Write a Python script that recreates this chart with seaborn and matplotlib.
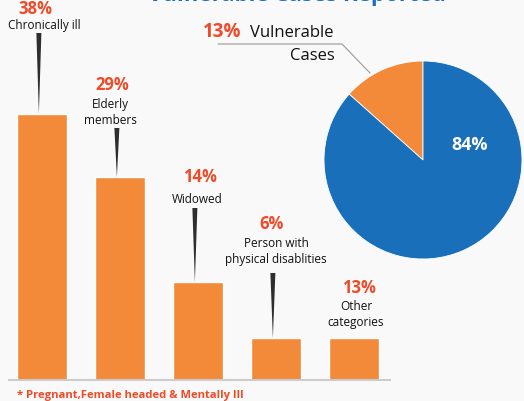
import matplotlib
matplotlib.use("Agg")
import matplotlib.pyplot as plt
import seaborn as sns

# data
categories = ["Chronically ill", "Elderly\nmembers", "Widowed",
              "Person with\nphysical disablities", "Other\ncategories"]
bar_heights = [38, 29, 14, 6, 6]          # drawn bar heights
bar_labels = ["38%", "29%", "14%", "6%", "13%"]
pie_values = [13, 84]
pie_names = ["Vulnerable\nCases", "Other"]
pie_labels = ["13%", "84%"]
title = "Vulnerable Cases Reported"
footnote = "* Pregnant,Female headed & Mentally Ill"

ORANGE = "#f28a3a"
BLUE = "#1a6fba"
RED = "#f04a28"
BG = "#f9f9f9"

sns.set_theme(style="white")
plt.rcParams["font.family"] = ["Open Sans", "DejaVu Sans"]

W, H = 524, 401
fig = plt.figure(figsize=(W / 100, H / 100), dpi=100)
fig.patch.set_facecolor(BG)

# bar axes fills the whole figure, scaled so 1 unit = 78 px in x, 7 px in y
ax = fig.add_axes([0, 0, 1, 1])
ax.set_facecolor(BG)
sns.barplot(x=categories, y=bar_heights, color=ORANGE, saturation=1,
            width=0.64, ax=ax)

def dx(px):
    return (px - 42) / 78

def dy(py):
    return (380 - py) / 7

ax.set_xlim(dx(0), dx(W))
ax.set_ylim(dy(H), dy(0))
ax.axis("off")

# baseline
ax.plot([dx(8), dx(391)], [0, 0], color="#cccccc", lw=1.5, solid_capstyle="butt")

# label layout (pixel baselines): pct, first line, pointer top
pct_y = [14, 90, 182, 229, 293]
pct_x = [35, 112, 200, 272, 359]
lab_y = [29, 108, 203, 247, 310]
lab_x = [44, 110, 197, 276, 356]
ptr_top = [33, 128, 208, 273, None]

for i, (h, pct, cat) in enumerate(zip(bar_heights, bar_labels, categories)):
    ax.text(dx(pct_x[i]), dy(pct_y[i]), pct, color=RED, fontsize=12,
            fontweight="bold", ha="center", va="baseline")
    for j, line in enumerate(cat.split("\n")):
        ax.text(dx(lab_x[i]), dy(lab_y[i] + 16 * j), line, color="#111111",
                fontsize=8.5, ha="center", va="baseline")
    if ptr_top[i] is not None:
        xc = i - 0.04
        ax.fill([xc - 0.032, xc + 0.032, xc], [dy(ptr_top[i]), dy(ptr_top[i]), h],
                color="#2e2e2e", lw=0)

ax.text(dx(17), dy(398), footnote, color=RED, fontsize=8.1,
        fontweight="bold", ha="left", va="baseline")

# title is cut by the top edge in the original
ax.text(dx(297), dy(1), title, color=BLUE, fontsize=16, fontweight="bold",
        ha="center", va="baseline")

# pie
cx, cy, r = 423, 160, 99
pax = fig.add_axes([(cx - r) / W, (H - cy - r) / H, 2 * r / W, 2 * r / H])
pax.pie(pie_values, colors=[ORANGE, BLUE], startangle=90, counterclock=True,
        wedgeprops=dict(edgecolor="white", linewidth=0.6))
pax.set_xlim(-1, 1)
pax.set_ylim(-1, 1)
pax.set_aspect("equal")

def fx(px):
    return px / W

def fy(py):
    return 1 - py / H

fig.text(fx(470), fy(150), pie_labels[1], color="white", fontsize=13,
         fontweight="bold", ha="center", va="baseline")
fig.text(fx(203), fy(37), pie_labels[0], color=RED, fontsize=13.5,
         fontweight="bold", ha="left", va="baseline")
name1, name2 = pie_names[0].split("\n")
fig.text(fx(250), fy(37), name1, color="#111111", fontsize=12,
         ha="left", va="baseline")
fig.text(fx(335), fy(60), name2, color="#111111", fontsize=12,
         ha="right", va="baseline")
fig.add_artist(plt.Line2D([fx(218), fx(342), fx(370)], [fy(44), fy(44), fy(73)],
                          color="#999999", lw=0.8, transform=fig.transFigure))

fig.savefig("out.png", dpi=100, facecolor=BG)
